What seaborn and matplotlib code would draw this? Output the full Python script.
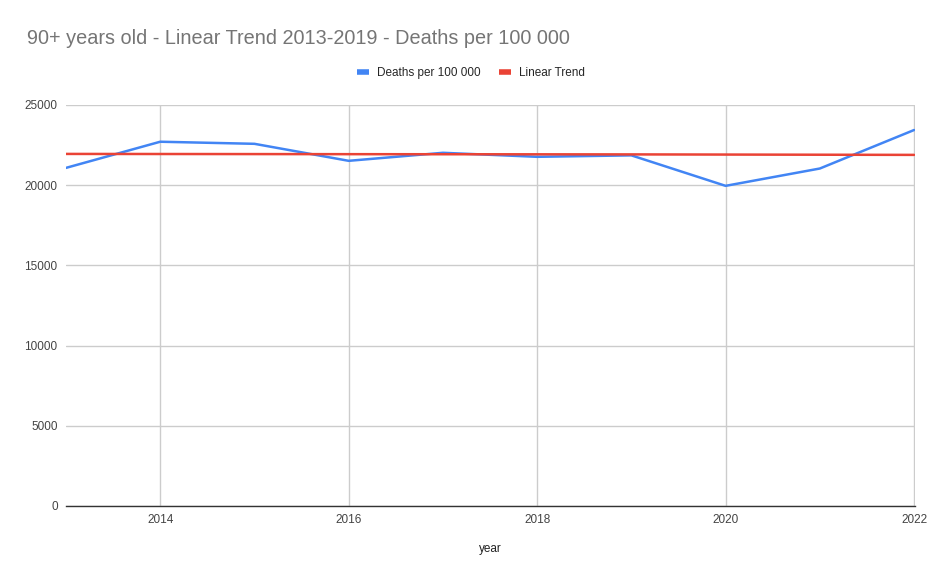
import matplotlib
matplotlib.use('Agg')
import matplotlib.pyplot as plt
import seaborn as sns
import pandas as pd
from matplotlib.lines import Line2D

# values
years = [2013, 2014, 2015, 2016, 2017, 2018, 2019, 2020, 2021, 2022]
deaths = [21080, 22710, 22580, 21520, 22020, 21770, 21860, 19960, 21040, 23440]
trend = [21950, 21945, 21940, 21935, 21930, 21925, 21920, 21910, 21900, 21890]

df = pd.DataFrame({'year': years, 'Deaths per 100 000': deaths, 'Linear Trend': trend})
long_df = df.melt(id_vars='year', var_name='series', value_name='value')

sns.set_theme(style='whitegrid')
plt.rcParams['font.family'] = ['Liberation Sans', 'DejaVu Sans']

fig = plt.figure(figsize=(9.43, 5.82), dpi=100)
ax = fig.add_axes([66 / 943, 1 - 506 / 582, (915 - 66) / 943, (506 - 105) / 582])

sns.lineplot(data=long_df, x='year', y='value', hue='series',
             palette=['#4285f4', '#ea4335'], linewidth=1.8, ax=ax, legend=False)

ax.set_xlim(2013, 2022.01)
ax.set_ylim(0, 25000)
ax.set_xticks([2014, 2016, 2018, 2020, 2022])
ax.set_yticks([0, 5000, 10000, 15000, 20000, 25000])
ax.grid(True, color='#cccccc', linewidth=1)
ax.tick_params(axis='both', labelsize=8.5, colors='#444444', length=0, pad=6)
for side in ['left', 'right', 'top']:
    ax.spines[side].set_visible(False)
ax.spines['bottom'].set_color('#333333')
ax.spines['bottom'].set_linewidth(1)
ax.set_ylabel('')
ax.set_xlabel('year', fontsize=8.5, color='#222222', labelpad=12)

fig.text(27 / 943, 1 - 38 / 582, '90+ years old - Linear Trend 2013-2019 - Deaths per 100 000',
         fontsize=14.3, color='#757575', va='center', ha='left')

# legend at the top centre
handles = [Line2D([], [], color='#4285f4', linewidth=4, solid_capstyle='butt'),
           Line2D([], [], color='#ea4335', linewidth=4, solid_capstyle='butt')]
fig.legend(handles, ['Deaths per 100 000', 'Linear Trend'], loc='center',
           bbox_to_anchor=(471 / 943, 1 - 73 / 582), ncol=2, frameon=False,
           fontsize=8.5, handlelength=1.0, columnspacing=1.6, handletextpad=0.7)

fig.savefig('out.png', dpi=100)
